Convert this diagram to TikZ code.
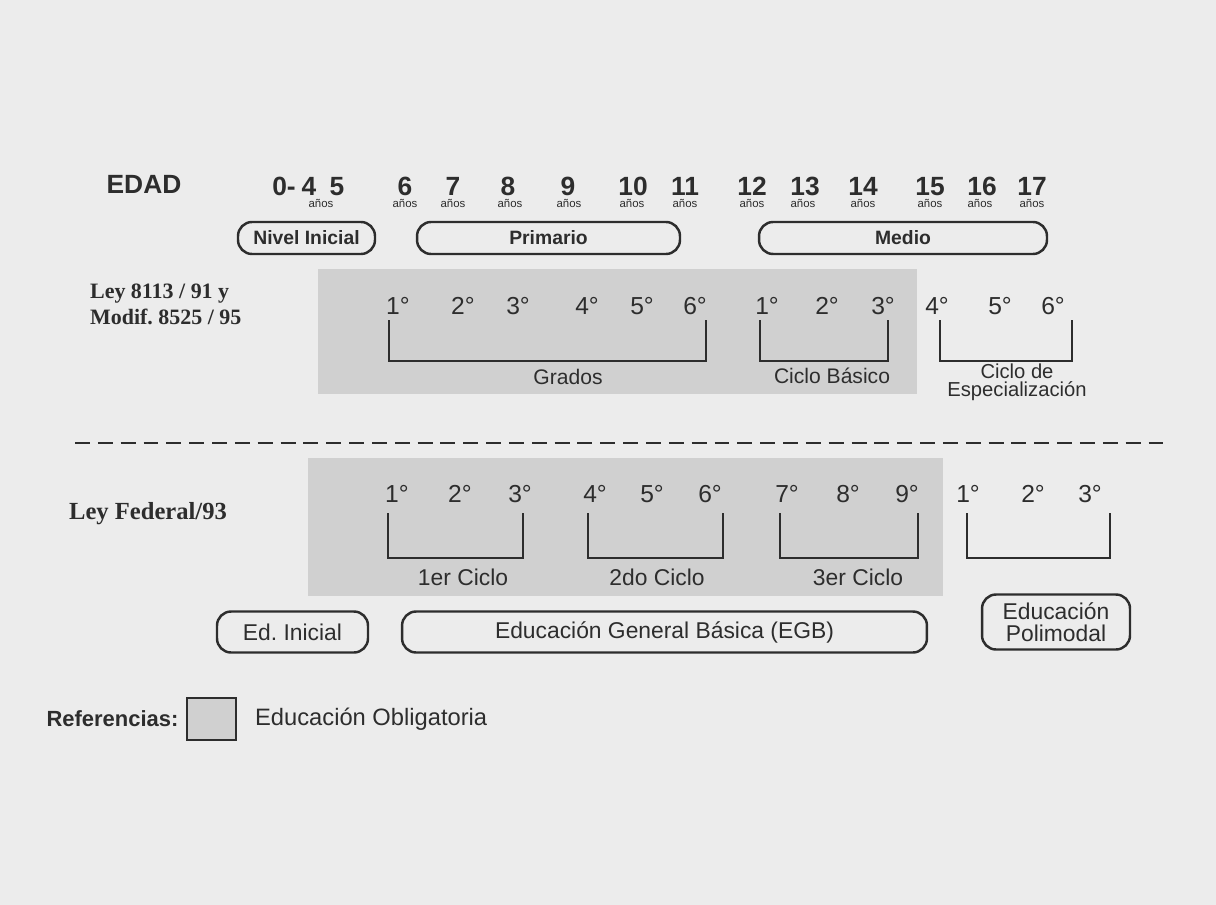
\documentclass[tikz,border=0pt]{standalone}
\usepackage{fontspec}
\setmainfont{Liberation Sans}
\newfontfamily\leyfont{Liberation Serif}
\usepackage{tikz}
\usetikzlibrary{positioning}
\definecolor{page}{RGB}{236,236,236}
\definecolor{oblig}{RGB}{208,208,208}
\definecolor{ink}{RGB}{45,45,45}

\begin{document}
\begin{tikzpicture}[
    x=0.02cm, y=-0.02cm,
    node distance=4pt,
    every node/.style={text=ink, inner sep=1pt},
    age/.style={font=\fontsize{15}{18}\selectfont\bfseries, anchor=base, inner sep=0.5pt},
    anos/.style={font=\fontsize{6.5}{7}\selectfont, anchor=base, inner sep=0pt},
    nivel/.style={draw=ink, line width=1.4pt, rounded corners=8pt, align=center},
    grado/.style={font=\fontsize{14}{16}\selectfont},
    ciclo/.style={font=\fontsize{12}{10}\selectfont, align=center},
    ley/.style={font=\leyfont\bfseries\fontsize{12.5}{14.8}\selectfont, align=left, anchor=west},
    bracket/.style={draw=ink, line width=1.3pt},
    dashline/.style={draw=ink, line width=1pt, dash pattern=on 8.5pt off 4.5pt}
]
\fill[page] (0,0) rectangle (1216,905);
\useasboundingbox (0,0) rectangle (1216,905);
\fill[oblig] (318,269) rectangle (917,394);
\fill[oblig] (308,458) rectangle (943,596);

\node[age] (edad) at (144,194) {EDAD};
\node[age] (a0) at (284,196) {0-};
\node[age] (a4) at (309,196) {4};
\node[age] (a5) at (337,196) {5};
\node[age] (a6) at (405,196) {6};
\node[age] (a7) at (453,196) {7};
\node[age] (a8) at (508,196) {8};
\node[age] (a9) at (568,196) {9};
\node[age] (a10) at (633,196) {10};
\node[age] (a11) at (685,196) {11};
\node[age] (a12) at (752,196) {12};
\node[age] (a13) at (805,196) {13};
\node[age] (a14) at (863,196) {14};
\node[age] (a15) at (930,196) {15};
\node[age] (a16) at (982,196) {16};
\node[age] (a17) at (1032,196) {17};
\node[anos] (n4) at (321,208) {años};
\node[anos] (n6) at (405,208) {años};
\node[anos] (n7) at (453,208) {años};
\node[anos] (n8) at (510,208) {años};
\node[anos] (n9) at (569,208) {años};
\node[anos] (n10) at (632,208) {años};
\node[anos] (n11) at (685,208) {años};
\node[anos] (n12) at (752,208) {años};
\node[anos] (n13) at (803,208) {años};
\node[anos] (n14) at (863,208) {años};
\node[anos] (n15) at (930,208) {años};
\node[anos] (n16) at (980,208) {años};
\node[anos] (n17) at (1032,208) {años};

\node[nivel, font=\fontsize{11}{12}\selectfont\bfseries, minimum width=2.74cm, minimum height=0.64cm] (inicial) at (306.5,238) {Nivel Inicial};
\node[nivel, font=\fontsize{11}{12}\selectfont\bfseries, minimum width=5.26cm, minimum height=0.64cm] (primario) at (548.5,238) {Primario};
\node[nivel, font=\fontsize{11}{12}\selectfont\bfseries, minimum width=5.76cm, minimum height=0.64cm] (medio) at (903,238) {Medio};

\node[ley] (ley91) at (88,304) {Ley 8113 / 91 y\\Modif.\ 8525 / 95};
\node[grado] (g1) at (398,306) {1°};
\node[grado] (g2) at (463,306) {2°};
\node[grado] (g3) at (518,306) {3°};
\node[grado] (g4) at (587,306) {4°};
\node[grado] (g5) at (642,306) {5°};
\node[grado] (g6) at (695,306) {6°};
\node[grado] (b1) at (767,306) {1°};
\node[grado] (b2) at (827,306) {2°};
\node[grado] (b3) at (883,306) {3°};
\node[grado] (e4) at (937,306) {4°};
\node[grado] (e5) at (1000,306) {5°};
\node[grado] (e6) at (1053,306) {6°};
\draw[bracket] (389,320) -- (389,361) -- (706,361) -- (706,320);
\draw[bracket] (760,320) -- (760,361) -- (888,361) -- (888,320);
\draw[bracket] (940,320) -- (940,361) -- (1072,361) -- (1072,320);
\node[ciclo] (grados) at (568,377) {Grados};
\node[ciclo] (basico) at (832,376) {Ciclo Básico};
\node[ciclo, font=\fontsize{11.5}{10.5}\selectfont] (espec) at (1017,382) {Ciclo de\\Especialización};

\draw[dashline] (75,443) -- (1170,443);

\node[ley, font=\leyfont\bfseries\fontsize{14}{16}\selectfont] (ley93) at (67,514) {Ley Federal/93};
\node[grado] (p1) at (397,494) {1°};
\node[grado] (p2) at (460,494) {2°};
\node[grado] (p3) at (520,494) {3°};
\node[grado] (p4) at (595,494) {4°};
\node[grado] (p5) at (652,494) {5°};
\node[grado] (p6) at (710,494) {6°};
\node[grado] (p7) at (787,494) {7°};
\node[grado] (p8) at (848,494) {8°};
\node[grado] (p9) at (907,494) {9°};
\node[grado] (m1) at (968,494) {1°};
\node[grado] (m2) at (1033,494) {2°};
\node[grado] (m3) at (1090,494) {3°};
\draw[bracket] (388,513) -- (388,558) -- (523,558) -- (523,513);
\draw[bracket] (588,513) -- (588,558) -- (723,558) -- (723,513);
\draw[bracket] (780,513) -- (780,558) -- (918,558) -- (918,513);
\draw[bracket] (967,513) -- (967,558) -- (1110,558) -- (1110,513);
\node[ciclo, font=\fontsize{13}{14}\selectfont] (ciclo1) at (463,577) {1er Ciclo};
\node[ciclo, font=\fontsize{13}{14}\selectfont] (ciclo2) at (657,577) {2do Ciclo};
\node[ciclo, font=\fontsize{13}{14}\selectfont] (ciclo3) at (858,577) {3er Ciclo};

\node[nivel, font=\fontsize{13}{14}\selectfont, minimum width=3.02cm, minimum height=0.82cm] (edinicial) at (292.5,632) {Ed.\ Inicial};
\node[nivel, font=\fontsize{13}{14}\selectfont, minimum width=10.5cm, minimum height=0.82cm] (egb) at (664.5,632) {Educación General Básica (EGB)};
\node[nivel, font=\fontsize{13}{12.5}\selectfont, minimum width=2.96cm, minimum height=1.1cm] (polimodal) at (1056,622) {Educación\\Polimodal};

\node[font=\fontsize{12.5}{14}\selectfont\bfseries] (ref) at (112.5,719) {Referencias:};
\node[draw=ink, line width=1.4pt, fill=oblig, minimum width=0.98cm, minimum height=0.84cm, right=3pt of ref] (legbox) {};
\node[font=\fontsize{13.5}{15}\selectfont, right=9pt of legbox] (obligatoria) {Educación Obligatoria};
\end{tikzpicture}
\end{document}
